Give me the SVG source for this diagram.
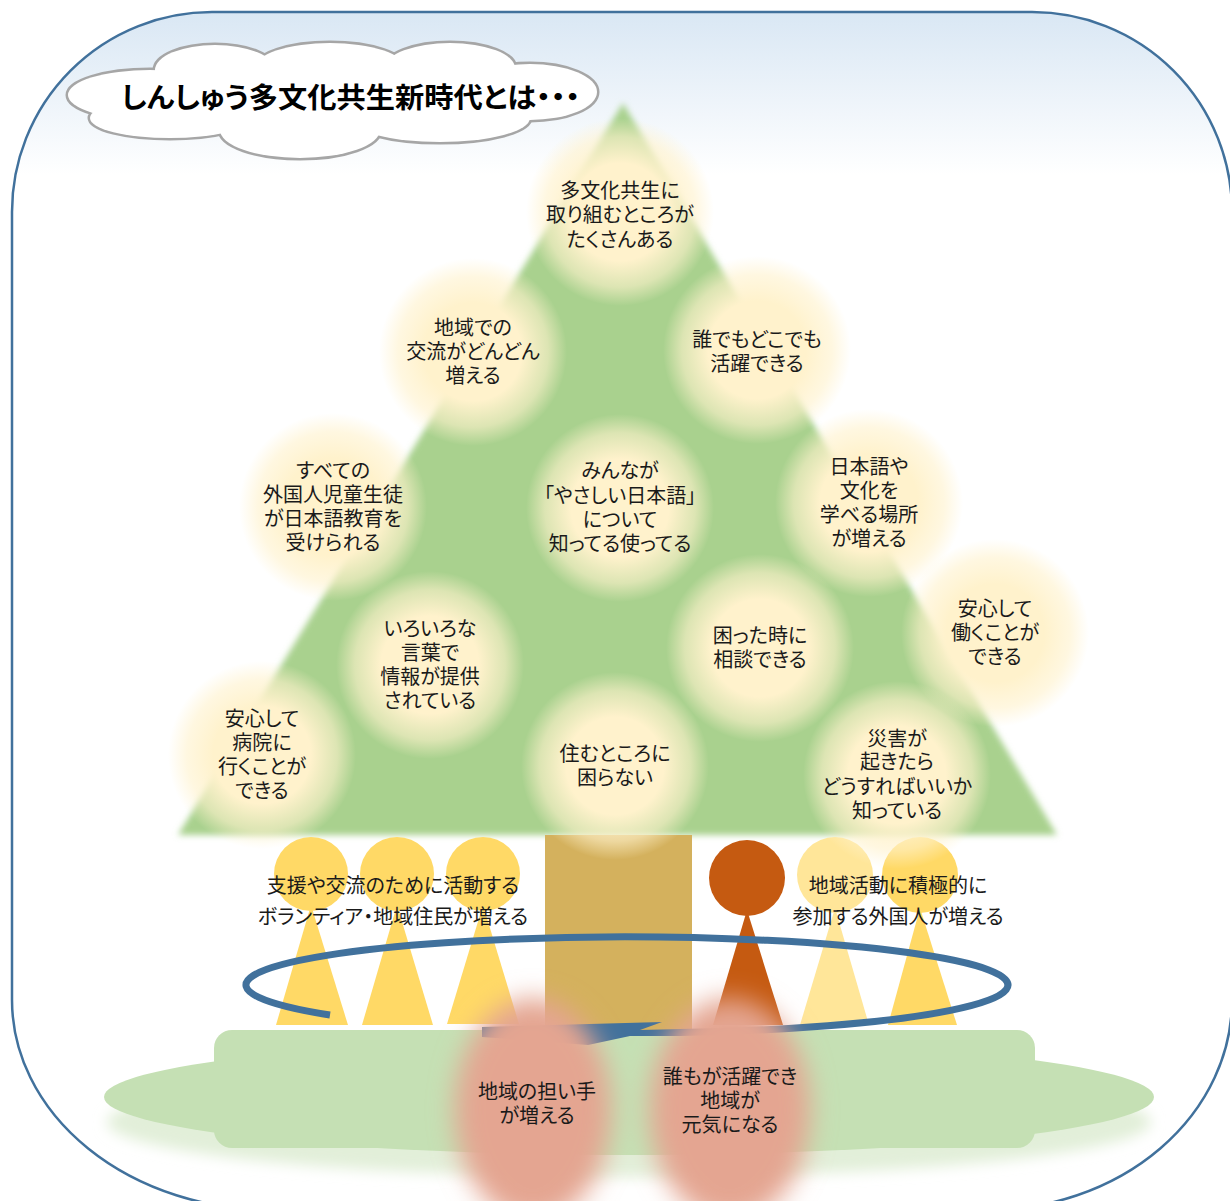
<svg xmlns="http://www.w3.org/2000/svg" width="1230" height="1201" viewBox="0 0 1230 1201">
  <defs>
    <linearGradient id="sky" x1="0" y1="12" x2="0" y2="175" gradientUnits="userSpaceOnUse">
      <stop offset="0" stop-color="#d9e7f4"/>
      <stop offset="1" stop-color="#ffffff"/>
    </linearGradient>
    <radialGradient id="glow" cx="0.5" cy="0.5" r="0.5">
      <stop offset="0" stop-color="#fff2cc" stop-opacity="1"/>
      <stop offset="0.52" stop-color="#fff2cc" stop-opacity="1"/>
      <stop offset="0.8" stop-color="#fff2cc" stop-opacity="0.6"/>
      <stop offset="1" stop-color="#fff2cc" stop-opacity="0"/>
    </radialGradient>
    <filter id="soft" x="-10%" y="-10%" width="120%" height="120%">
      <feGaussianBlur stdDeviation="3"/>
    </filter>
    <filter id="haze" x="-40%" y="-40%" width="180%" height="180%">
      <feGaussianBlur stdDeviation="13"/>
    </filter>
    <filter id="shade" x="-10%" y="-50%" width="120%" height="200%">
      <feGaussianBlur stdDeviation="7"/>
    </filter>
    <style>
      .lbl { font-family: "Noto Sans CJK JP", "Noto Sans", sans-serif; font-size: 20px; fill: #1a1a1a; text-anchor: middle; font-feature-settings: "palt"; }
      .title { font-family: "Noto Sans CJK JP", "Noto Sans", sans-serif; font-size: 28px; font-weight: 700; fill: #000; font-feature-settings: "palt"; }
      .glowc { fill: url(#glow); }
      .cl-line { fill: none; stroke: #a6a6a6; stroke-width: 5; }
      .cl-fill { fill: #ffffff; }
      .ring { fill: none; stroke: #41719c; stroke-width: 7; }
    </style>
  </defs>

  <!-- frame -->
  <path id="frame" d="M 212,12 H 1032 A 200 200 0 0 1 1232 212 V 1000 A 245 210 0 0 1 987 1210 H 272 A 260 210 0 0 1 12 1000 V 212 A 200 200 0 0 1 212 12 Z" fill="url(#sky)" stroke="#41719c" stroke-width="2.5"/>

  <!-- title cloud: stroked lobes under filled lobes leave only the outer outline -->
  <g id="title">
    <g class="cl-line">
      <ellipse cx="150" cy="95" rx="82" ry="25"/>
      <ellipse cx="215" cy="70" rx="60" ry="25"/>
      <ellipse cx="330" cy="68" rx="75" ry="25"/>
      <ellipse cx="450" cy="68" rx="65" ry="25"/>
      <ellipse cx="530" cy="92" rx="67" ry="28"/>
      <ellipse cx="170" cy="118" rx="80" ry="20"/>
      <ellipse cx="300" cy="130" rx="80" ry="28"/>
      <ellipse cx="440" cy="118" rx="90" ry="24"/>
    </g>
    <g class="cl-fill">
      <ellipse cx="150" cy="95" rx="82" ry="25"/>
      <ellipse cx="215" cy="70" rx="60" ry="25"/>
      <ellipse cx="330" cy="68" rx="75" ry="25"/>
      <ellipse cx="450" cy="68" rx="65" ry="25"/>
      <ellipse cx="530" cy="92" rx="67" ry="28"/>
      <ellipse cx="170" cy="118" rx="80" ry="20"/>
      <ellipse cx="300" cy="130" rx="80" ry="28"/>
      <ellipse cx="440" cy="118" rx="90" ry="24"/>
      <rect x="170" y="76" width="330" height="50"/>
    </g>
    <text class="title" x="121" y="108" textLength="459" lengthAdjust="spacingAndGlyphs">しんしゅう多文化共生新時代とは・・・</text>
  </g>

  <!-- ground -->
  <g id="ground">
    <ellipse cx="629" cy="1122" rx="522" ry="55" fill="#e2efd9" filter="url(#shade)"/>
    <ellipse cx="629" cy="1097" rx="525" ry="58" fill="#c5e0b4"/>
    <rect x="214" y="1030" width="821" height="118" rx="18" fill="#c5e0b4"/>
  </g>

  <!-- tree -->
  <polygon id="tree" points="623,103 1057,835 178,835" fill="#a9d18e" filter="url(#soft)"/>
  <rect id="trunk" x="545" y="835" width="147" height="195" fill="#d4b15d"/>

  <!-- people -->
  <g id="volunteers" fill="#ffd966">
    <polygon points="311,905 276,1025 348,1025"/>
    <circle cx="311" cy="874" r="37"/>
    <polygon points="397,905 362,1025 433,1025"/>
    <circle cx="397" cy="874" r="37"/>
    <polygon points="483,905 447,1024 519,1024"/>
    <circle cx="483" cy="874" r="37"/>
  </g>
  <g id="residents">
    <polygon points="747,910 713,1025 783,1025" fill="#c55a11"/>
    <circle cx="747" cy="878" r="38" fill="#c55a11"/>
    <polygon points="835,908 800,1025 869,1025" fill="#ffe699"/>
    <circle cx="835" cy="875" r="38" fill="#ffe699"/>
    <polygon points="920,908 888,1025 957,1025" fill="#ffd966"/>
    <circle cx="920" cy="875" r="38" fill="#ffd966"/>
  </g>

  <!-- soft glows behind each goal -->
  <g id="glows">
    <circle class="glowc" cx="620" cy="212" r="94"/>
    <circle class="glowc" cx="473" cy="352" r="94"/>
    <circle class="glowc" cx="757" cy="350" r="94"/>
    <circle class="glowc" cx="333" cy="507" r="94"/>
    <circle class="glowc" cx="620" cy="508" r="94"/>
    <circle class="glowc" cx="869" cy="503" r="94"/>
    <circle class="glowc" cx="995" cy="633" r="94"/>
    <circle class="glowc" cx="430" cy="665" r="94"/>
    <circle class="glowc" cx="760" cy="648" r="94"/>
    <circle class="glowc" cx="262" cy="755" r="94"/>
    <circle class="glowc" cx="615" cy="766" r="94"/>
    <circle class="glowc" cx="897" cy="775" r="94"/>
  </g>

  <!-- cycle arrow -->
  <g id="connectors">
    <path class="ring" d="M 330,1015.07 A 381 48 0 1 1 680 1032.53"/>
    <polygon points="662,1022 482,1027 482,1037 588,1045 630,1036 682,1036 682,1029 640,1030" fill="#41719c"/>
  </g>

  <!-- outcome blobs -->
  <g id="outcome-blobs" fill="#e4a591" filter="url(#haze)">
    <ellipse cx="533" cy="1110" rx="78" ry="112"/>
    <ellipse cx="730" cy="1110" rx="80" ry="112"/>
  </g>

  <!-- labels -->
  <g id="n1"><text class="lbl" x="620" y="198">多文化共生に</text><text class="lbl" x="620" y="222">取り組むところが</text><text class="lbl" x="620" y="247">たくさんある</text></g>
  <g id="n2"><text class="lbl" x="473" y="335">地域での</text><text class="lbl" x="473" y="359">交流がどんどん</text><text class="lbl" x="473" y="383">増える</text></g>
  <g id="n3"><text class="lbl" x="757" y="347">誰でもどこでも</text><text class="lbl" x="757" y="371">活躍できる</text></g>
  <g id="n4"><text class="lbl" x="333" y="478">すべての</text><text class="lbl" x="333" y="502">外国人児童生徒</text><text class="lbl" x="333" y="526">が日本語教育を</text><text class="lbl" x="333" y="550">受けられる</text></g>
  <g id="n5"><text class="lbl" x="620" y="478">みんなが</text><text class="lbl" x="620" y="503">「やさしい日本語」</text><text class="lbl" x="620" y="527">について</text><text class="lbl" x="620" y="551">知ってる使ってる</text></g>
  <g id="n6"><text class="lbl" x="869" y="474">日本語や</text><text class="lbl" x="869" y="498">文化を</text><text class="lbl" x="869" y="522">学べる場所</text><text class="lbl" x="869" y="546">が増える</text></g>
  <g id="n7"><text class="lbl" x="995" y="616">安心して</text><text class="lbl" x="995" y="640">働くことが</text><text class="lbl" x="995" y="664">できる</text></g>
  <g id="n8"><text class="lbl" x="430" y="636">いろいろな</text><text class="lbl" x="430" y="660">言葉で</text><text class="lbl" x="430" y="684">情報が提供</text><text class="lbl" x="430" y="708">されている</text></g>
  <g id="n9"><text class="lbl" x="760" y="643">困った時に</text><text class="lbl" x="760" y="667">相談できる</text></g>
  <g id="n10"><text class="lbl" x="262" y="726">安心して</text><text class="lbl" x="262" y="750">病院に</text><text class="lbl" x="262" y="774">行くことが</text><text class="lbl" x="262" y="798">できる</text></g>
  <g id="n11"><text class="lbl" x="615" y="761">住むところに</text><text class="lbl" x="615" y="785">困らない</text></g>
  <g id="n12"><text class="lbl" x="897" y="746">災害が</text><text class="lbl" x="897" y="769">起きたら</text><text class="lbl" x="897" y="794">どうすればいいか</text><text class="lbl" x="897" y="818">知っている</text></g>

  <g id="volunteers-label"><text class="lbl" x="393" y="893">支援や交流のために活動する</text><text class="lbl" x="393" y="924">ボランティア・地域住民が増える</text></g>
  <g id="residents-label"><text class="lbl" x="898" y="893">地域活動に積極的に</text><text class="lbl" x="898" y="924">参加する外国人が増える</text></g>

  <g id="outcome-1"><text class="lbl" x="537" y="1099">地域の担い手</text><text class="lbl" x="537" y="1123">が増える</text></g>
  <g id="outcome-2"><text class="lbl" x="730" y="1084">誰もが活躍でき</text><text class="lbl" x="730" y="1108">地域が</text><text class="lbl" x="730" y="1132">元気になる</text></g>
</svg>
